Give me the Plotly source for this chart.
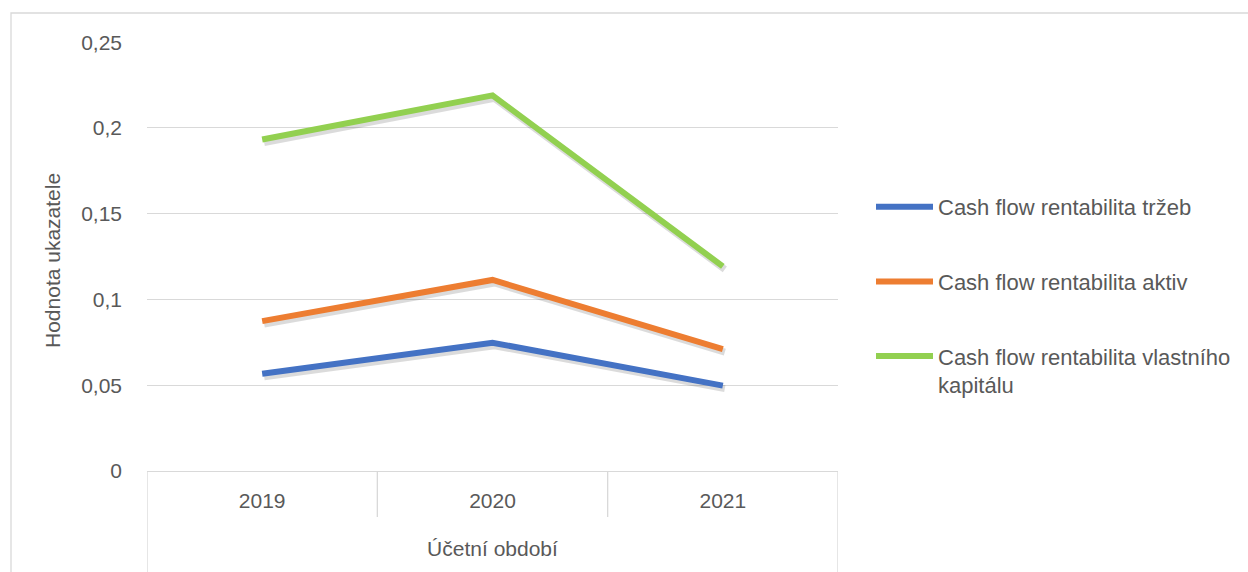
import plotly.graph_objects as go

years = ["2019", "2020", "2021"]
series_names = [
    "Cash flow rentabilita tržeb",
    "Cash flow rentabilita aktiv",
    "Cash flow rentabilita vlastního<br>kapitálu",
]
cf_trzeb = [0.0567, 0.0748, 0.0498]
cf_aktiv = [0.0874, 0.1114, 0.0710]
cf_vk = [0.1933, 0.2190, 0.1193]
y_tickvals = [0, 0.05, 0.1, 0.15, 0.2, 0.25]
y_ticktext = ["0", "0,05", "0,1", "0,15", "0,2", "0,25"]
x_title = "Účetní období"
y_title = "Hodnota ukazatele"

colors = ["#4472C4", "#ED7D31", "#92D050"]
values = [cf_trzeb, cf_aktiv, cf_vk]

W, H = 1248, 572
L, R, T, B = 147, 838, 42, 471
pw, ph = R - L, B - T
FONT = "Liberation Sans"
FS = 21
TXT = "#595959"
GRID = "#D9D9D9"

fig = go.Figure()

# shadows (same data, on overlay axes shifted a few pixels)
for v in values:
    fig.add_trace(go.Scatter(x=years, y=v, mode="lines", xaxis="x2", yaxis="y2",
                             line=dict(color="rgba(0,0,0,0.14)", width=7),
                             showlegend=False, hoverinfo="skip"))
for i, (name, v, c) in enumerate(zip(series_names, values, colors)):
    fig.add_trace(go.Scatter(x=years, y=v, name=name, mode="lines", xaxis="x3", yaxis="y3",
                             legendgroup=f"g{i}",
                             line=dict(color=c, width=6)))

ymax = 0.25
xu = 3 / pw
yu = ymax / ph
dx, dy = 2, 3

fig.update_layout(
    width=W, height=H,
    margin=dict(l=L, r=W - R, t=T, b=H - B, pad=0),
    paper_bgcolor="white", plot_bgcolor="white",
    font=dict(family=FONT, size=FS, color=TXT),
    xaxis=dict(type="category", categoryorder="array", categoryarray=years,
               range=[-0.5, 2.5], showgrid=False, showline=True, linecolor=GRID, linewidth=1.3,
               ticks="outside", ticklen=11, tickcolor="rgba(0,0,0,0)",
               tickfont=dict(size=FS, color=TXT), zeroline=False,
               title=dict(text=x_title, standoff=29, font=dict(size=FS, color=TXT))),
    yaxis=dict(range=[0, ymax * 1.0005], tickvals=y_tickvals, ticktext=y_ticktext,
               showgrid=True, gridcolor=GRID, gridwidth=1.3, zeroline=False, showline=False,
               ticklabelstandoff=24, tickfont=dict(size=FS, color=TXT)),
    xaxis2=dict(type="category", categoryorder="array", categoryarray=years, overlaying="x",
                range=[-0.5 - dx * xu, 2.5 - dx * xu], visible=False),
    yaxis2=dict(overlaying="y", range=[dy * yu, ymax * 1.0005 + dy * yu], visible=False),
    xaxis3=dict(type="category", categoryorder="array", categoryarray=years, overlaying="x",
                range=[-0.5, 2.5], visible=False),
    yaxis3=dict(overlaying="y", range=[0, ymax * 1.0005], visible=False),
    legend=dict(xref="container", yref="container", x=871 / W, y=1 - 186 / H,
                xanchor="left", yanchor="top", tracegroupgap=43, valign="top",
                font=dict(size=22, color=TXT), bgcolor="rgba(0,0,0,0)", itemwidth=57),
    showlegend=True,
)

# outer chart border
fig.add_shape(type="rect", xref="paper", yref="paper",
              x0=(11 - L) / pw, x1=(W + 5 - L) / pw,
              y0=(B - (H + 5)) / ph, y1=(B - 13) / ph,
              line=dict(color=GRID, width=1.3), fillcolor="rgba(0,0,0,0)", layer="below")

# category separators below the axis
for i, xb in enumerate([-0.5, 0.5, 1.5, 2.5]):
    outer = i in (0, 3)
    y_end = (B - (H + 5)) / ph if outer else (B - 517) / ph
    fig.add_shape(type="line", xref="x", yref="paper", x0=xb, x1=xb, y0=0, y1=y_end,
                  line=dict(color=GRID, width=1.3))

# y axis title
fig.add_annotation(text=y_title, xref="paper", yref="paper", x=(52 - L) / pw, y=(B - 261) / ph,
                   xanchor="center", yanchor="middle", textangle=-90, showarrow=False,
                   font=dict(size=FS, color=TXT))

fig.write_html("out.html", config={"displayModeBar": False},
               post_script="document.body.style.margin='0';document.body.style.overflow='hidden';")
